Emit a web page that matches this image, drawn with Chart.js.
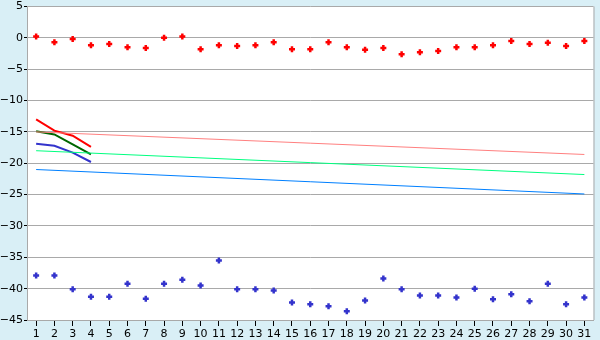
<!DOCTYPE html>
<html>
<head>
<meta charset="utf-8">
<script src="https://cdn.jsdelivr.net/npm/chart.js@4/dist/chart.umd.min.js"></script>
<style>
  body { margin: 0; background: #d9eff6; }
  canvas { display: block; }
</style>
</head>
<body>
<canvas id="tempChart" width="600" height="340"></canvas>
<script>
const days = ["1","2","3","4","5","6","7","8","9","10","11","12","13","14","15","16",
              "17","18","19","20","21","22","23","24","25","26","27","28","29","30","31"];

// daily extremes (scatter marks)
const highs = [0.2, -0.7, -0.2, -1.2, -1.0, -1.5, -1.6, 0.0, 0.2, -1.8, -1.2, -1.3, -1.2, -0.7, -1.8, -1.8,
               -0.7, -1.5, -1.9, -1.6, -2.6, -2.3, -2.1, -1.5, -1.5, -1.2, -0.5, -1.0, -0.8, -1.3, -0.5];
const lows = [-37.9, -37.9, -40.1, -41.3, -41.3, -39.2, -41.6, -39.2, -38.6, -39.5, -35.5, -40.1, -40.1, -40.3, -42.2, -42.5,
              -42.8, -43.6, -41.9, -38.4, -40.1, -41.1, -41.1, -41.4, -40.0, -41.7, -40.9, -42.0, -39.2, -42.5, -41.4];

// first days, thick lines
const recentMax = [-13.0, -14.8, -15.6, -17.4];
const recentMean = [-14.9, -15.4, -17.0, -18.6];
const recentMin = [-16.9, -17.2, -18.3, -19.8];

// normals, start and end of month
const normMax = [-15.0, -18.6];
const normMean = [-18.0, -21.8];
const normMin = [-21.0, -24.9];

const yTicks = [5, 0, -5, -10, -15, -20, -25, -30, -35, -40, -45];

const ends = (vals) => [{ x: days[0], y: vals[0] }, { x: days[days.length - 1], y: vals[1] }];

const plotBg = {
    id: "plotBg",
    beforeDraw(chart) {
        const { ctx, chartArea: a } = chart;
        ctx.save();
        ctx.fillStyle = "#ffffff";
        ctx.fillRect(a.left, a.top, a.right - a.left, a.bottom - a.top);
        ctx.restore();
    },
    afterDraw(chart) {
        const { ctx, chartArea: a } = chart;
        ctx.save();
        ctx.strokeStyle = "#a9a9a9";
        ctx.lineWidth = 1;
        ctx.beginPath();
        ctx.moveTo(a.right + 0.5, a.top);
        ctx.lineTo(a.right + 0.5, a.bottom);
        ctx.stroke();
        ctx.restore();
    }
};

const markSet = (data, color) => ({
    data: data,
    showLine: false,
    pointStyle: "cross",
    pointRadius: 3,
    pointBorderWidth: 2.5,
    borderColor: color,
    backgroundColor: color,
    order: 0
});

const lineSet = (data, color, width) => ({
    data: data,
    borderColor: color,
    borderWidth: width,
    pointRadius: 0,
    tension: 0,
    order: 1
});

new Chart(document.getElementById("tempChart").getContext("2d"), {
    type: "line",
    data: {
        labels: days,
        datasets: [
            markSet(highs, "#ff0000"),
            markSet(lows, "#3333cc"),
            lineSet(ends(normMax), "#ff8080", 1),
            lineSet(ends(normMean), "#00ff80", 1),
            lineSet(ends(normMin), "#0080ff", 1),
            lineSet(recentMax, "#ff0000", 2),
            lineSet(recentMean, "#006600", 2),
            lineSet(recentMin, "#3333cc", 2)
        ]
    },
    options: {
        responsive: false,
        animation: false,
        layout: { padding: { top: 0, right: 4, left: 0, bottom: 0 } },
        plugins: {
            legend: { display: false },
            tooltip: { enabled: false }
        },
        scales: {
            x: {
                offset: true,
                afterFit: (axis) => { axis.height = 20; },
                grid: {
                    offset: false,
                    drawOnChartArea: false,
                    tickLength: 6,
                    tickColor: "#000000"
                },
                border: { color: "#a9a9a9" },
                ticks: {
                    color: "#000000",
                    font: { family: "DejaVu Sans", size: 11 },
                    padding: 2,
                    maxRotation: 0,
                    autoSkip: false
                }
            },
            y: {
                min: -45,
                max: 5,
                afterBuildTicks: (axis) => { axis.ticks = yTicks.map(v => ({ value: v })); },
                afterFit: (axis) => { axis.width = 27; axis.paddingTop = 5; },
                grid: {
                    color: "#a9a9a9",
                    tickLength: 3,
                    tickColor: "#000000"
                },
                border: { color: "#a9a9a9" },
                ticks: {
                    color: "#000000",
                    font: { family: "DejaVu Sans", size: 11 },
                    padding: 1,
                    callback: (v) => String(v).replace("-", "\u2212")
                }
            }
        }
    },
    plugins: [plotBg]
});
</script>
</body>
</html>
